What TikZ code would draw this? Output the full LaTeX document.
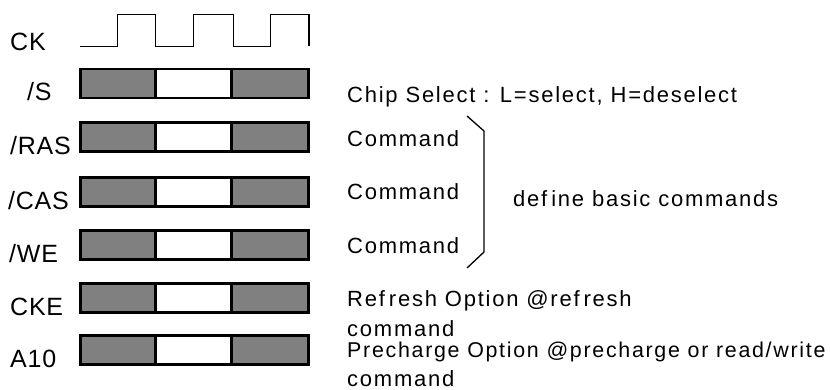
\documentclass[tikz,border=0pt]{standalone}
\usepackage{fontspec}
\setmainfont{Liberation Sans}
\newfontfamily\labfont[LetterSpace=3]{Liberation Sans}
\newfontfamily\notefont[LetterSpace=8]{Liberation Sans}
\definecolor{barfill}{RGB}{128,128,128}
\tikzset{
  siglabel/.style={anchor=base west, inner sep=0pt, font=\labfont\fontsize{25}{29}\selectfont},
  note/.style={anchor=base west, inner sep=0pt, font=\notefont\fontsize{22}{26}\selectfont},
  bar/.style={line width=2.7pt, draw=black}
}
\begin{document}
\begin{tikzpicture}[x=1pt, y=-1pt]
\useasboundingbox (0,0) rectangle (830,390);

\draw[line width=1.3pt] (80,46.5) -- (117.3,46.5) -- (117.3,14.3) -- (155.3,14.3) -- (155.3,46.5)
  -- (193.7,46.5) -- (193.7,14.3) -- (233.3,14.3) -- (233.3,46.5)
  -- (270.7,46.5) -- (270.7,14.3) -- (309,14.3) -- (309,46.5);
\node[siglabel] (labck) at (10,51) {CK};

\foreach \t/\n/\lab/\lx in {69/s/{/S}/27, 122.5/ras/{/RAS}/10, 177.3/cas/{/CAS}/8,
    230.7/we/{/WE}/9, 283.3/cke/{CKE}/10, 335.7/aten/{A10}/10}{
\fill[barfill] (80.7,\t) rectangle (155.3,\t+29);
\fill[barfill] (231.3,\t) rectangle (308.7,\t+29);
\draw[bar] (80.7,\t) rectangle (308.7,\t+29);
\draw[bar] (155.3,\t) -- (155.3,\t+29);
\draw[bar] (231.3,\t) -- (231.3,\t+29);
\node[siglabel] (lab\n) at (\lx,\t+32) {\lab};
}

\node[note] (chipsel) at (347,103) {Chip Select : L=select, H=deselect};
\node[note] (cmdras) at (347,147) {Command};
\node[note] (cmdcas) at (347,200) {Command};
\node[note] (cmdwe) at (347,254) {Command};
\draw[line width=1.3pt] (467,116) -- (484,131) -- (484,252) -- (467,268);
\node[note] (basic) at (513,207) {def\kern4pt ine basic commands};
\node[note] (refresh) at (347,306) {Ref\kern4pt resh Option @ref\kern4pt resh};
\node[note] (refcmd) at (347,336) {command};
\node[note, font=\notefont\fontsize{21.4}{26}\selectfont] (prech) at (347,357.5) {Precharge Option @precharge or read/write};
\node[note] (precmd) at (347,386) {command};
\end{tikzpicture}
\end{document}
